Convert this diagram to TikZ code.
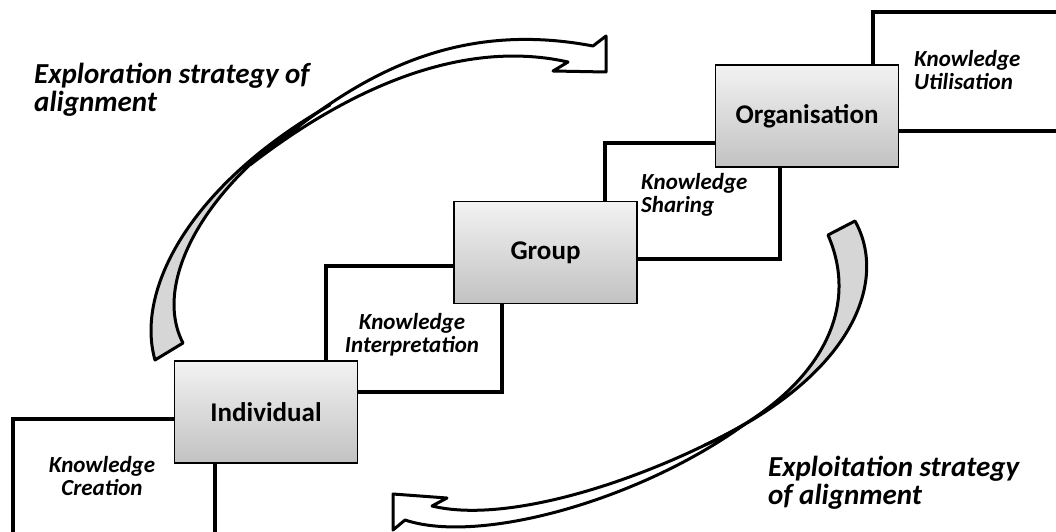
\documentclass[tikz,border=0pt]{standalone}
\usepackage{fontspec}
\setmainfont{Carlito}
\usetikzlibrary{positioning,backgrounds}
\tikzset{
  levelbox/.style={draw, line width=1.5pt, minimum width=183pt, minimum height=102pt, inner sep=0pt,
    top color=black!5, bottom color=black!24, font=\fontsize{27}{30}\selectfont\bfseries},
  stepline/.style={line width=3.5pt},
  kntext/.style={font=\fontsize{23}{23}\selectfont\bfseries\itshape, inner sep=0pt},
  strattext/.style={font=\fontsize{29}{28}\selectfont\bfseries\itshape, align=left, anchor=north west, inner sep=0pt},
  arrowline/.style={draw, line width=3pt, line join=round},
  arrowback/.style={fill=black!16},
  arrowfront/.style={fill=white},
}
% outlines of the two bent arrows (back = grey tail, front = white head)
\newcommand{\exploreback}{(155,360) .. controls (135,290) and (190,185) .. (330,105)
	.. controls (210,175) and (150,280) .. (183,343) -- cycle}
\newcommand{\explorefront}{(250,165) .. controls (330,100) and (430,15) .. (593,46)
	-- (606,36) -- (606,72) -- (553,71) -- (568,62)
	.. controls (470,40) and (360,80) .. (250,165) -- cycle}
\newcommand{\exploitback}{(855,221) .. controls (888,280) and (855,375) .. (705,445)
	.. controls (805,400) and (865,320) .. (828,235) -- cycle}
\newcommand{\exploitfront}{(745,424) .. controls (650,478) and (510,525) .. (432,506)
	-- (447,498) -- (393,494) -- (393,530) -- (405,520)
	.. controls (480,545) and (640,500) .. (745,424) -- cycle}

\begin{document}
\begin{tikzpicture}[x=1pt, y=-1pt]
	\useasboundingbox (0,0) rectangle (1056,532);

	% The three levels, climbing to the right
	\node[levelbox] (ind) at (266,412) {Individual};
	\node[levelbox, above right=56pt and 95pt of ind] (grp) {Group};
	\node[levelbox, above right=33pt and 77pt of grp] (org) {Organisation};

	% Step outlines behind the boxes
	\begin{pgfonlayer}{background}
		\draw[stepline] (ind.west |- 0,419) -| (13,540);
		\draw[stepline] (ind.south -| 215,0) -- (215,540);
		\draw[stepline] (ind.north -| 326,0) |- (grp.west |- 0,266);
		\draw[stepline] (grp.south -| 502,0) |- (ind.east |- 0,392);
		\draw[stepline] (grp.north -| 605,0) |- (org.west |- 0,143);
		\draw[stepline] (org.south -| 780,0) |- (grp.east |- 0,259);
		\draw[stepline] (org.north -| 873,0) |- (1070,12);
		\draw[stepline] (org.east |- 0,131) -- (1070,131);
	\end{pgfonlayer}

	% Step labels
	\node[kntext, align=center, anchor=north] (kcre) at (102,456) {Knowledge\\Creation};
	\node[kntext, align=center, anchor=north] (kint) at (412,313) {Knowledge\\Interpretation};
	\node[kntext, align=left, anchor=north west] (ksha) at (641,173) {Knowledge\\Sharing};
	\node[kntext, align=left, anchor=north west] (kuti) at (914,50) {Knowledge\\Utilisation};

	% Exploration arrow (upwards): fills first, then outlines
	\path[arrowback] \exploreback;
	\path[arrowfront] \explorefront;
	\path[arrowline] \exploreback;
	\path[arrowline] \explorefront;
	\node[strattext] (explor) at (34,63) {Exploration strategy of\\alignment};

	% Exploitation arrow (downwards)
	\path[arrowback] \exploitback;
	\path[arrowfront] \exploitfront;
	\path[arrowline] \exploitback;
	\path[arrowline] \exploitfront;
	\node[strattext] (exploi) at (768,456) {Exploitation strategy\\of alignment};
\end{tikzpicture}
\end{document}
